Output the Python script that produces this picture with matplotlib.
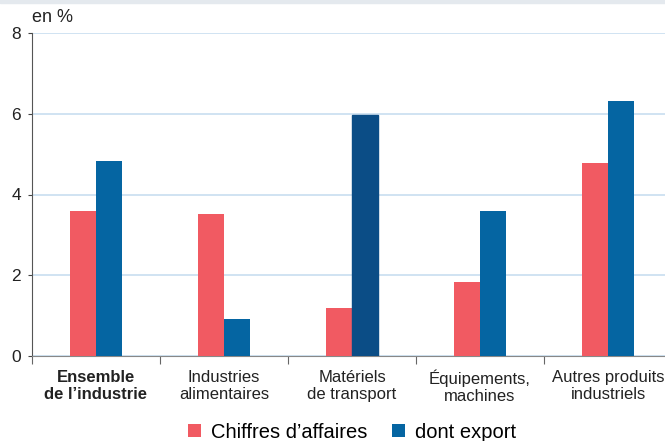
import numpy as np
import matplotlib.pyplot as plt
from matplotlib.patches import Rectangle

categories = ["Ensemble\nde l\u2019industrie", "Industries\nalimentaires", "Mat\u00e9riels\nde transport",
              "\u00c9quipements,\nmachines", "Autres produits\nindustriels"]
chiffres = [3.59, 3.51, 1.19, 1.83, 4.78]
export = [4.83, 0.92, 5.97, 3.59, 6.31]

red = "#f15a62"
blue = "#0565a2"
blue_dark = "#0b4d86"

plt.rcParams['font.family'] = ['Liberation Sans', 'DejaVu Sans']

fig = plt.figure(figsize=(6.65, 4.41), dpi=100)
fig.patches.append(Rectangle((0, 1 - 3/441), 1, 3/441, transform=fig.transFigure,
                             color="#e4e9ee", zorder=0))
ax = fig.add_axes([32/665, 1 - 356/441, 640/665, 323/441])

x = np.arange(len(categories))
w = 0.205
ax.bar(x - w/2, chiffres, w, color=red, zorder=3, label="Chiffres d\u2019affaires")
bars = ax.bar(x + w/2, export, w, color=blue, zorder=3, label="dont export")
bars[2].set_color(blue_dark)

ax.set_xlim(-0.5, 4.5)
ax.set_ylim(0, 8)
ax.set_yticks([0, 2, 4, 6, 8])
ax.yaxis.grid(True, color="#c8def0", linewidth=1.2, zorder=0)
ax.set_axisbelow(True)

ax.set_xticks(np.arange(-0.5, 4.6, 1))
ax.set_xticklabels([])
ax.set_xticks(x, minor=True)
ax.set_xticklabels(categories, minor=True, fontsize=12, color="#222222", linespacing=1.15)
ax.tick_params(axis='x', which='minor', length=0, pad=10)
ax.tick_params(axis='x', which='major', length=6, color="#666666", direction='out')
ax.tick_params(axis='y', length=3, color="#444444", labelsize=12.5, labelcolor="#222222", pad=5)
ax.get_xticklabels(minor=True)[0].set_fontweight('bold')

for s in ["top", "right"]:
    ax.spines[s].set_visible(False)
ax.spines["left"].set_color("#555555")
ax.spines["bottom"].set_color("#888888")

fig.text(32/665, 1 - 18/441, "en %", fontsize=13, color="#222222", va="center")

leg = fig.legend(loc="center left", bbox_to_anchor=(188/665, 1 - 432/441), ncol=2, frameon=False,
                 fontsize=14.5, handlelength=0.65, handleheight=0.65, columnspacing=1.2,
                 handletextpad=0.5, borderpad=0, borderaxespad=0)

fig.savefig("out.png", dpi=100)
